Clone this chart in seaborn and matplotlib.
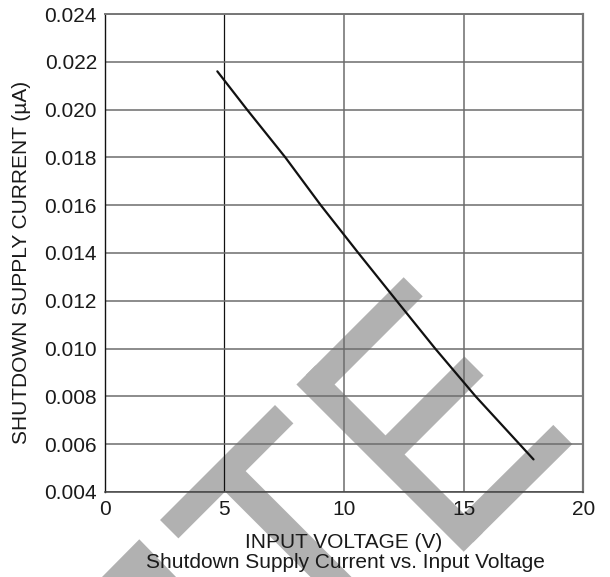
import numpy as np
import pandas as pd
import matplotlib
matplotlib.use("Agg")
import matplotlib.pyplot as plt
from matplotlib.patches import Polygon
import seaborn as sns

# ---- data ----
input_voltage = [4.71, 5.95, 7.55, 9.03, 10.6, 12.2, 13.81, 15.5, 17.92]
shutdown_current = [0.0216, 0.0200, 0.0180, 0.0160, 0.0140, 0.0120, 0.0100, 0.0080, 0.00536]
x_ticks = [0, 5, 10, 15, 20]
y_ticks = [0.004, 0.006, 0.008, 0.010, 0.012, 0.014, 0.016, 0.018, 0.020, 0.022, 0.024]
y_tick_labels = ["0.004", "0.006", "0.008", "0.010", "0.012", "0.014",
                 "0.016", "0.018", "0.020", "0.022", "0.024"]
x_label = "INPUT VOLTAGE (V)"
y_label = "SHUTDOWN SUPPLY CURRENT (\u00b5A)"
caption = "Shutdown Supply Current vs. Input Voltage"

df = pd.DataFrame({"v": input_voltage, "i": shutdown_current})

sns.set_style("white")
plt.rcParams["font.family"] = ["Liberation Sans", "DejaVu Sans"]

W, H = 610, 577
fig = plt.figure(figsize=(W / 100, H / 100), dpi=100)
fig.patch.set_facecolor("white")
ax = fig.add_axes([104.6 / W, 1 - 491.9 / H, (583.3 - 104.6) / W, (491.9 - 14.0) / H])
ax.set_facecolor("none")

# ---- watermark (decorative, in figure pixel space) ----
def band(p0, p1, w, ext0=0.0, ext1=0.0):
    p0 = np.array(p0, float); p1 = np.array(p1, float)
    d = (p1 - p0) / np.linalg.norm(p1 - p0)
    n = np.array([-d[1], d[0]])
    a = p0 - d * ext0; b = p1 + d * ext1
    pts = [a + n * w / 2, b + n * w / 2, b - n * w / 2, a - n * w / 2]
    return [(x / W, 1 - y / H) for x, y in pts]

wm_color = "#b1b1b1"
shapes = [
    band((169.2, 529.2), (284.2, 414.2), 26),
    band((226.2, 472.2), (360, 606), 29),
    band((315.5, 384.5), (463.7, 532.7), 27, 13.5, 13.5),
    band((315.5, 384.5), (413.2, 286.8), 27),
    band((385.5, 454.5), (474.0, 366.0), 27),
    band((463.7, 532.7), (562.8, 434.5), 27),
    [(139.3 / W, 1 - 539.3 / H), (100 / W, 1 - 579 / H), (178 / W, 1 - 579 / H)],
]
for s in shapes:
    fig.patches.append(Polygon(s, closed=True, transform=fig.transFigure,
                               facecolor=wm_color, edgecolor="none", zorder=-5))

# ---- plot ----
sns.lineplot(data=df, x="v", y="i", ax=ax, color="#111111", linewidth=1.6, zorder=5)

ax.set_xlim(0, 20)
ax.set_ylim(0.004, 0.024)
ax.set_xticks(x_ticks)
ax.set_yticks(y_ticks)
ax.set_yticklabels(y_tick_labels)
ax.tick_params(axis="both", length=0, labelsize=15, colors="#1a1a1a")
ax.tick_params(axis="y", pad=5.5)
ax.tick_params(axis="x", pad=6)

ax.grid(True, color="#6c6c6c", linewidth=1.1)
ax.set_axisbelow(True)
xg = ax.get_xgridlines()
xg[1].set_color("#111111")
xg[1].set_linewidth(0.9)

for side, col, lw in [("left", "#111111", 1.0), ("bottom", "#444444", 1.1),
                      ("top", "#777777", 1.4), ("right", "#777777", 1.6)]:
    ax.spines[side].set_visible(True)
    ax.spines[side].set_color(col)
    ax.spines[side].set_linewidth(lw)

ax.set_xlabel(x_label, fontsize=15, color="#1a1a1a")
ax.xaxis.set_label_coords(0.5, -(543 - 491.9) / (491.9 - 14.0))
ax.xaxis.label.set_va("center")
ax.set_ylabel(y_label, fontsize=15, color="#1a1a1a")
ax.yaxis.set_label_coords(-(104.6 - 22) / (583.3 - 104.6), 0.48)
ax.yaxis.label.set_va("center")

fig.text(345 / W, 1 - 563 / H, caption, fontsize=15, color="#1a1a1a",
         ha="center", va="center")

fig.savefig("out.png", dpi=100, facecolor="white")
